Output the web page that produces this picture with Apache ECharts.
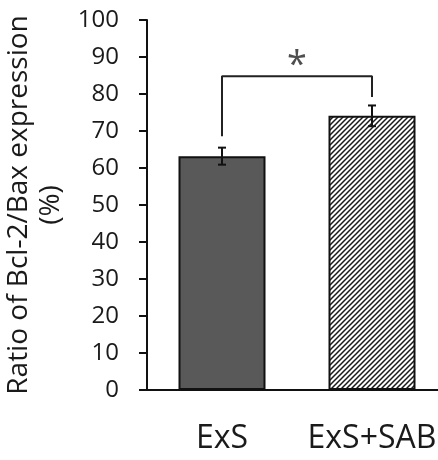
<!DOCTYPE html>
<html><head><meta charset="utf-8">
<script src="https://cdn.jsdelivr.net/npm/echarts@6/dist/echarts.min.js"></script>
<style>html,body{margin:0;padding:0;background:#fff}#c{width:438px;height:460px}</style>
</head><body><div id="c"></div>
<script>
// ---- data ----
const categories = ['ExS', 'ExS+SAB'];
const means = [63.2, 74.1];
const errors = [2.3, 2.8];
const yMin = 0, yMax = 100, yStep = 10;
const bracketBottoms = [68.6, 79.2];
const bracketTop = 84.8;
const sigLabel = '*';
const sigY = 85;
const yAxisTitle = 'Ratio of Bcl-2/Bax expression\n(%)';

// ---- hatch pattern ----
const pc = document.createElement('canvas');
pc.width = 5; pc.height = 5;
const ctx = pc.getContext('2d');
ctx.fillStyle = '#fff'; ctx.fillRect(0, 0, 5, 5);
ctx.strokeStyle = '#1a1a1a'; ctx.lineWidth = 1.5;
ctx.beginPath();
ctx.moveTo(-1, 6); ctx.lineTo(6, -1);
ctx.moveTo(-1, 1); ctx.lineTo(1, -1);
ctx.moveTo(4, 6); ctx.lineTo(6, 4);
ctx.stroke();

const fills = ['#595959', { image: pc, repeat: 'repeat' }];
const FONT = '"Open Sans", "Noto Sans", sans-serif';

const chart = echarts.init(document.getElementById('c'), null, { renderer: 'canvas' });
chart.setOption({
  animation: false,
  backgroundColor: '#fff',
  grid: { left: 147, top: 20, bottom: 70, width: 300, containLabel: false, outerBoundsMode: 'none' },
  xAxis: [{
    type: 'category', data: categories,
    axisLine: { show: true, onZero: false, lineStyle: { color: '#111', width: 2 } },
    axisTick: { show: false },
    axisLabel: { interval: 0, hideOverlap: false, fontSize: 32, color: '#1a1a1a', margin: 33, fontFamily: FONT }
  }, {
    type: 'value', min: -0.5, max: 1.5, show: false
  }],
  yAxis: {
    type: 'value', min: yMin, max: yMax, interval: yStep,
    name: yAxisTitle, nameLocation: 'middle', nameRotate: 90, nameGap: 55,
    nameTextStyle: { fontSize: 28, color: '#1a1a1a', lineHeight: 32, fontFamily: FONT, align: 'center' },
    axisLine: { show: true, onZero: false, lineStyle: { color: '#111', width: 2 } },
    axisTick: { show: true, length: 8, lineStyle: { color: '#111', width: 2 } },
    splitLine: { show: false },
    axisLabel: { fontSize: 24, color: '#1a1a1a', margin: 28, fontFamily: FONT }
  },
  series: [{
    type: 'bar', barWidth: 87,
    data: means.map((v, i) => ({ value: v, itemStyle: { color: fills[i], borderColor: '#111', borderWidth: 2 } })),
    silent: true
  }, {
    type: 'custom',
    data: means.map((v, i) => [i, v - errors[i], v + errors[i]]),
    renderItem: function (params, api) {
      const lo = api.coord([api.value(0), api.value(1)]);
      const hi = api.coord([api.value(0), api.value(2)]);
      const w = 4;
      const st = { stroke: '#111', lineWidth: 2 };
      return { type: 'group', children: [
        { type: 'line', shape: { x1: hi[0], y1: hi[1], x2: lo[0], y2: lo[1] }, style: st },
        { type: 'line', shape: { x1: hi[0] - w, y1: hi[1], x2: hi[0] + w, y2: hi[1] }, style: st },
        { type: 'line', shape: { x1: lo[0] - w, y1: lo[1], x2: lo[0] + w, y2: lo[1] }, style: st }
      ]};
    },
    z: 5
  }, {
    type: 'line', xAxisIndex: 1, symbol: 'none', silent: true,
    lineStyle: { color: '#222', width: 2 },
    data: [[0, bracketBottoms[0]], [0, bracketTop], [1, bracketTop], [1, bracketBottoms[1]]]
  }, {
    type: 'scatter', xAxisIndex: 1, symbolSize: 1, itemStyle: { color: 'rgba(0,0,0,0)' },
    data: [[0.5, sigY]],
    label: { show: true, formatter: sigLabel, position: 'top', distance: -9, fontSize: 36, color: '#222', fontFamily: FONT }
  }]
});
</script></body></html>
